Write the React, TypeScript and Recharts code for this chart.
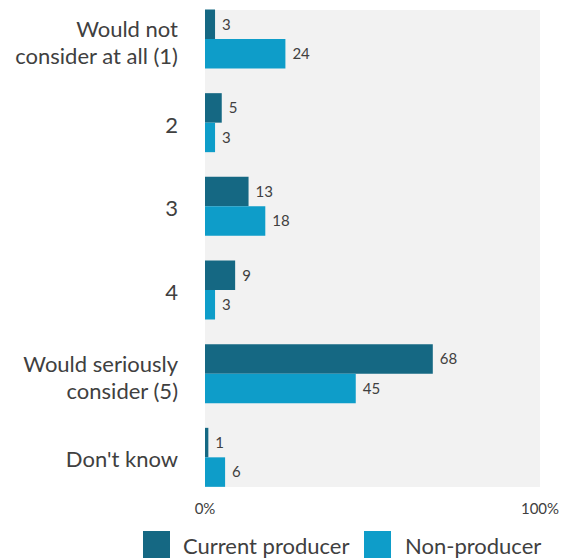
import React from "react";
import { BarChart, Bar, XAxis, YAxis, CartesianGrid, Legend, LabelList } from "recharts";

const categories = ["Would not|consider at all (1)", "2", "3", "4", "Would seriously|consider (5)", "Don't know"];
const currentProducer = [3, 5, 13, 9, 68, 1];
const nonProducer = [24, 3, 18, 3, 45, 6];
const xTicks = [0, 100];
const seriesNames = ["Current producer", "Non-producer"];
const colors = ["#156883", "#0e9dc9"];

const data = categories.map((c, i) => ({
  cat: c,
  current: currentProducer[i],
  non: nonProducer[i],
}));

const FONT = "Lato, 'Open Sans', sans-serif";
const TEXT = "#404040";

const YTick = (props: any) => {
  const { x, y, payload } = props;
  const lines = String(payload.value).split("|");
  if (lines.length === 1) {
    return (
      <text x={x} y={y + 9.5} textAnchor="end" fontSize={22} fontFamily={FONT} fill={TEXT}>
        {lines[0]}
      </text>
    );
  }
  return (
    <text textAnchor="end" fontSize={22} fontFamily={FONT} fill={TEXT}>
      <tspan x={x} y={y - 2}>{lines[0]}</tspan>
      <tspan x={x} y={y + 24.5}>{lines[1]}</tspan>
    </text>
  );
};

const LegendContent = () => (
  <div style={{ position: "relative", width: 567, height: 40, fontFamily: FONT }}>
    {seriesNames.map((n, i) => (
      <React.Fragment key={n}>
        <div
          style={{
            position: "absolute",
            left: i === 0 ? 143 : 364,
            top: 13,
            width: 27,
            height: 27,
            background: colors[i],
          }}
        />
        <div
          style={{
            position: "absolute",
            left: i === 0 ? 183 : 405,
            top: 14,
            fontSize: 22,
            lineHeight: "27px",
            color: TEXT,
            whiteSpace: "nowrap",
          }}
        >
          {n}
        </div>
      </React.Fragment>
    ))}
  </div>
);

export default function App() {
  return (
    <div style={{ position: "absolute", left: 0, top: 0 }}>
      <BarChart
        width={567}
        height={558}
        data={data}
        layout="vertical"
        margin={{ top: 10, right: 27, bottom: 0, left: 0 }}
        barGap={0}
      >
        <CartesianGrid fill="#f2f2f2" stroke="none" horizontal={false} vertical={false} />
        <XAxis
          type="number"
          domain={[0, 100]}
          ticks={xTicks}
          tickFormatter={(v: number) => `${v}%`}
          axisLine={false}
          tickLine={false}
          tickSize={0}
          tickMargin={16}
          height={31}
          tick={{ fontSize: 15, fontFamily: FONT, fill: TEXT }}
        />
        <YAxis
          type="category"
          dataKey="cat"
          width={205}
          axisLine={false}
          tickLine={false}
          tickSize={0}
          tickMargin={27}
          padding={{ top: -12.5, bottom: -12.5 }}
          tick={<YTick />}
          interval={0}
        />
        <Legend verticalAlign="bottom" height={40} content={<LegendContent />} wrapperStyle={{ left: 0, width: 567 }} />
        <Bar dataKey="current" name={seriesNames[0]} fill={colors[0]} barSize={29.5} isAnimationActive={false}>
          <LabelList dataKey="current" position="right" offset={7} fontSize={15} fontFamily={FONT} fill={TEXT} />
        </Bar>
        <Bar dataKey="non" name={seriesNames[1]} fill={colors[1]} barSize={29.5} isAnimationActive={false}>
          <LabelList dataKey="non" position="right" offset={7} fontSize={15} fontFamily={FONT} fill={TEXT} />
        </Bar>
      </BarChart>
    </div>
  );
}
